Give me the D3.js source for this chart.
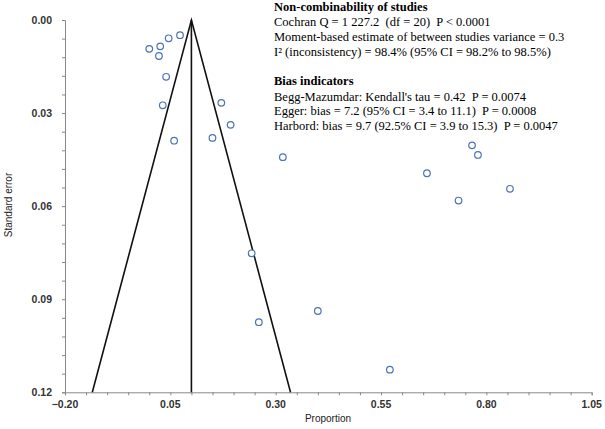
<!DOCTYPE html>
<html><head><meta charset="utf-8">
<script src="https://cdn.jsdelivr.net/npm/d3@7"></script>
<style>
html,body{margin:0;padding:0;background:#fff;}
svg{display:block;}
text.pre{white-space:pre;}
</style></head>
<body>
<svg id="chart" width="605" height="429"></svg>
<script>
// Study proportions and standard errors
const proportions = [0.073,0.046,0.026,0.000,0.023,0.040,0.032,0.171,0.193,0.150,0.059,0.317,0.766,0.780,0.659,0.856,0.734,0.243,0.260,0.400,0.571];
const stdErrors   = [0.0049,0.0059,0.0085,0.0093,0.0116,0.0183,0.0275,0.0267,0.0338,0.0380,0.0389,0.0442,0.0404,0.0435,0.0494,0.0544,0.0582,0.0752,0.0974,0.0938,0.1127];
const pooled = 0.10;
const xTicks = [-0.20,0.05,0.30,0.55,0.80,1.05];
const yTicks = [0.00,0.03,0.06,0.09,0.12];
const heterogeneityLines = [
  "Cochran Q = 1 227.2  (df = 20)  P < 0.0001",
  "Moment-based estimate of between studies variance = 0.3",
  "I\u00B2 (inconsistency) = 98.4% (95% CI = 98.2% to 98.5%)"
];
const biasLines = [
  "Begg-Mazumdar: Kendall's tau = 0.42  P = 0.0074",
  "Egger: bias = 7.2 (95% CI = 3.4 to 11.1)  P = 0.0008",
  "Harbord: bias = 9.7 (92.5% CI = 3.9 to 15.3)  P = 0.0047"
];

const svg = d3.select("#chart");
const W = 605, H = 429;
const m = {left:65, right:13.3, top:20, bottom:36.7};
const x = d3.scaleLinear().domain([-0.20,1.05]).range([m.left, W-m.right]);
const y = d3.scaleLinear().domain([0,0.12]).range([m.top, H-m.bottom]);
const axisColor = "#898989";
const labelFont = "'Liberation Sans', Arial, sans-serif";

// X axis
const xMinor = d3.range(-0.20, 1.0501, 0.05);
const gx = svg.append("g").attr("transform",`translate(0,${y(0.12)})`);
gx.call(d3.axisBottom(x).tickValues(xMinor).tickSize(3).tickFormat(""));
gx.select(".domain").attr("stroke",axisColor).attr("stroke-width",1);
gx.selectAll(".tick line").attr("stroke",axisColor);
gx.selectAll(".xlab").data(xTicks).enter().append("text")
  .attr("x",d=>x(d)).attr("y",16)
  .attr("text-anchor","middle").attr("font-family",labelFont)
  .attr("font-size","10.5px").attr("font-weight","bold").attr("fill","#333")
  .text(d=>d3.format(".2f")(d));

// Y axis
const yMinor = d3.range(0, 0.12001, 0.006);
const gy = svg.append("g").attr("transform",`translate(${x(-0.20)},0)`);
gy.call(d3.axisLeft(y).tickValues(yMinor).tickSize(3).tickFormat(""));
gy.select(".domain").attr("stroke",axisColor).attr("stroke-width",1);
gy.selectAll(".tick line").attr("stroke",axisColor);
gy.selectAll(".ylab").data(yTicks).enter().append("text")
  .attr("x",-13).attr("y",d=>y(d)+3.8)
  .attr("text-anchor","end").attr("font-family",labelFont)
  .attr("font-size","10.5px").attr("font-weight","bold").attr("fill","#333")
  .text(d=>d3.format(".2f")(d));

// Axis titles
svg.append("text").attr("x",328).attr("y",422)
  .attr("text-anchor","middle").attr("font-family",labelFont)
  .attr("font-size","10px").attr("fill","#222").text("Proportion");
svg.append("text").attr("transform","translate(12,205) rotate(-90)")
  .attr("text-anchor","middle").attr("font-family",labelFont)
  .attr("font-size","10px").attr("fill","#222").text("Standard error");

// Funnel
const seMax = 0.12;
svg.append("path")
  .attr("d", d3.line()([[x(pooled-1.96*seMax),y(seMax)],[x(pooled),y(0)],[x(pooled+1.96*seMax),y(seMax)]]))
  .attr("fill","none").attr("stroke","#111").attr("stroke-width",1.6);
svg.append("line")
  .attr("x1",x(pooled)).attr("x2",x(pooled)).attr("y1",y(0)).attr("y2",y(seMax))
  .attr("stroke","#111").attr("stroke-width",1.6);

// Points
svg.selectAll(".pt").data(proportions).enter().append("circle")
  .attr("cx",d=>x(d)).attr("cy",(d,i)=>y(stdErrors[i])).attr("r",3.3)
  .attr("fill","#fff").attr("stroke","#4A74B4").attr("stroke-width",1.2);

// Annotation text
const tf = "'Liberation Serif','Times New Roman',serif";
const tx = 274;
const t = svg.append("g").attr("font-family",tf).attr("font-size","12.5px").attr("fill","#000");
t.append("text").attr("x",tx).attr("y",11).attr("font-weight","bold").text("Non-combinability of studies");
heterogeneityLines.forEach((s,i)=>t.append("text").attr("class","pre").attr("xml:space","preserve").attr("x",tx).attr("y",26+i*15).text(s));
t.append("text").attr("x",tx).attr("y",85).attr("font-weight","bold").text("Bias indicators");
biasLines.forEach((s,i)=>t.append("text").attr("class","pre").attr("xml:space","preserve").attr("x",tx).attr("y",100.5+i*14.7).text(s));
</script>
</body></html>
